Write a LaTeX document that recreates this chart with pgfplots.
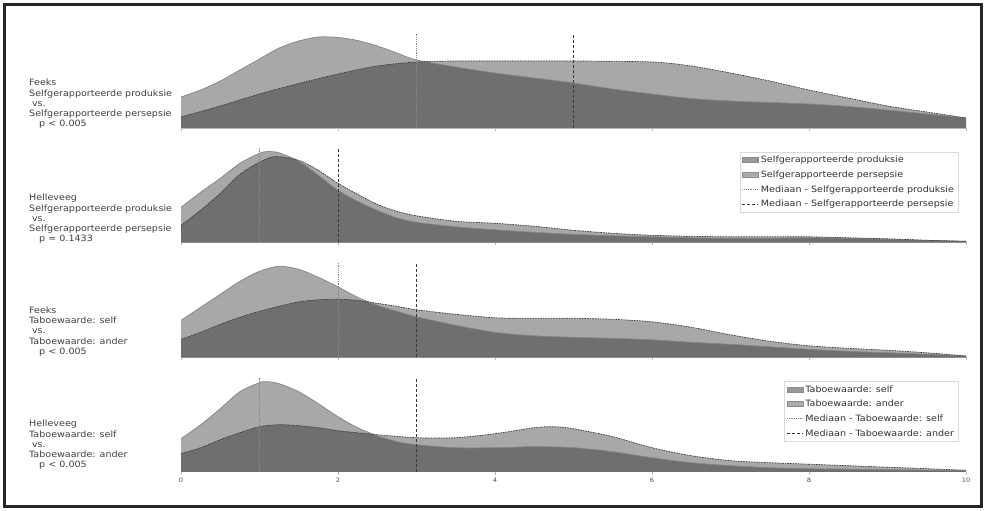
\documentclass[border=0pt]{standalone}
\usepackage{fontspec}
\setmainfont[FakeStretch=1.1]{DejaVu Sans}
\usepackage{pgfplots}
\usepackage{pgfplotstable}
\pgfplotsset{compat=1.18}
\usetikzlibrary{patterns}

\definecolor{edgeA}{gray}{0.52}
\definecolor{edgeB}{gray}{0.22}
\definecolor{axgray}{gray}{0.72}

% Panel 1: Feeks, produksie (A) vs persepsie (B)
\pgfplotstableread{
x y
0 31
0.25 38
0.5 47
0.75 58
1 69
1.25 80
1.5 87
1.75 91
2 90.5
2.25 87.5
2.5 82
2.75 75
3 68
3.5 61
4 55
4.5 50
5 45
5.5 39
6 34
6.5 29.5
7 27
7.5 25.5
8 24
8.5 21.5
9 18
9.5 14
10 10
}\pAa
\pgfplotstableread{
x y
0 11
0.5 22
1 34
1.5 44.5
2 54
2.5 62
3 66
3.5 67
4 67
5 67
6 66
6.5 62
7 55
7.5 47
8 38
8.5 30
9 22
9.5 16
10 10
}\pAb
% Panel 2: Helleveeg, produksie vs persepsie
\pgfplotstableread{
x y
0 35
0.25 50
0.5 64
0.75 79
1 89
1.1 90.7
1.25 89.5
1.5 81
1.75 67
2 52
2.25 41
2.5 32
2.75 24.5
3 20
3.5 15.5
4 12.5
4.5 10
5 8
5.5 6.5
6 5.5
6.5 4.5
7 4
7.5 4
8 4.5
8.5 4
9 3
9.5 2
10 1
}\pBa
\pgfplotstableread{
x y
0 17
0.25 32
0.5 49
0.75 68
1 80
1.2 85.7
1.5 82
1.75 72
2 59
2.25 48
2.5 38
2.75 31
3 26.5
3.5 21
4 19
4.5 16
5 12
5.5 9
6 7
6.5 6
7 5.5
7.5 5.5
8 5.5
8.5 4.5
9 3.5
9.5 2
10 1
}\pBb
% Panel 3: Feeks, Taboewaarde self vs ander
\pgfplotstableread{
x y
0 37
0.25 50
0.5 63
0.75 76
1 86
1.25 91
1.5 88
1.75 80
2 70.5
2.25 60
2.5 52
2.75 46
3 40.5
3.5 32
4 25
4.5 21.5
5 20
5.5 19
6 17.5
6.5 15
7 13
7.5 10.5
8 8
8.5 6
9 4.5
9.5 3
10 1.3
}\pCa
\pgfplotstableread{
x y
0 18
0.25 25
0.5 33
0.75 40
1 46
1.25 51
1.5 55.5
1.75 57.5
2 58
2.25 57
2.5 54
2.75 51
3 47.5
3.5 43
4 39.5
4.5 39
5 39
5.5 38
6 35.5
6.5 30
7 22.5
7.5 16
8 11.5
8.5 9
9 7
9.5 4.5
10 1.3
}\pCb
% Panel 4: Helleveeg, Taboewaarde self vs ander
\pgfplotstableread{
x y
0 33
0.25 47
0.5 63
0.75 80
1 89
1.1 90
1.25 88
1.5 80
1.75 68
2 55
2.25 44
2.5 36
2.75 30
3 27
3.5 24
4 24
4.5 25
5 24
5.5 20
6 14
6.5 9
7 6
7.5 4
8 3
8.5 2.5
9 2
9.5 1.5
10 1
}\pDa
\pgfplotstableread{
x y
0 18
0.25 24
0.5 32
0.75 39
1 45
1.25 47
1.5 46
1.75 44
2 41
2.5 37
3 34
3.5 34
4 38
4.5 44
4.75 45
5 43
5.5 35
6 24
6.5 16
7 11
7.5 9
8 7.5
8.5 6
9 4.5
9.5 3
10 1.5
}\pDb

\pgfplotsset{
  ridge/.style={
    scale only axis, width=785pt, height=100pt,
    anchor=south west,
    xmin=0, xmax=10, ymin=0, ymax=100,
    enlargelimits=false,
    axis x line*=bottom, axis y line=none,
    x axis line style={draw=axgray, line width=0.8pt, -},
    xtick={0,2,4,6,8,10}, ytick=\empty,
    tick align=outside, major tick length=3pt,
    xtick style={draw=axgray, line width=0.6pt},
    xticklabel style={font=\fontsize{6}{7}\selectfont, text=black!70},
    /pgf/number format/assume math mode=true,
  },
  fillA/.style={draw=none, fill=black, fill opacity=0.34, smooth, forget plot},
  lineA/.style={edgeA, line width=0.7pt, smooth, forget plot},
  fillB/.style={draw=none, fill=black, fill opacity=0.34, smooth, forget plot},
  lineB/.style={edgeB, line width=0.7pt, dash pattern=on 1.6pt off 1pt, smooth, forget plot},
  medA/.style={edgeA, line width=0.8pt, densely dotted, forget plot},
  medB/.style={edgeB, line width=0.8pt, dash pattern=on 3pt off 2pt, forget plot},
  myleg/.style={
    legend style={at={(0.99,0.905)}, anchor=north east, draw=black!15,
      fill=white, font=\fontsize{8.7}{10}\selectfont, text=black!80,
      row sep=2.6pt, inner xsep=2pt, inner ysep=2pt,
      cells={anchor=west}},
    legend cell align=left,
  },
}

\newcommand{\lblfont}{\fontsize{8.7}{10.2}\selectfont}

\begin{document}
\begin{tikzpicture}[x=1pt,y=1pt]
\useasboundingbox (0,0) rectangle (986,511);
\draw[line width=3pt, black!85] (4.5,4.5) rectangle (981.5,506.5);

% Panel 1
\begin{axis}[ridge, at={(181pt,383pt)}, xticklabels={}]
\addplot[fillA] table {\pAa} \closedcycle;
\addplot[fillB] table {\pAb} \closedcycle;
\addplot[lineA] table {\pAa};
\addplot[lineB] table {\pAb};
\addplot[medA] coordinates {(3,0) (3,94)};
\addplot[medB] coordinates {(5,0) (5,94)};
\end{axis}

% Panel 2
\begin{axis}[ridge, myleg, at={(181pt,268.7pt)}, xticklabels={}]
\addplot[fillA] table {\pBa} \closedcycle;
\addplot[fillB] table {\pBb} \closedcycle;
\addplot[lineA] table {\pBa};
\addplot[lineB] table {\pBb};
\addplot[medA] coordinates {(1,0) (1,94)};
\addplot[medB] coordinates {(2,0) (2,94)};
\addlegendimage{legend image code/.code={\draw[fill=black!40, draw=black!45] (0pt,-2.5pt) rectangle (16pt,2.5pt);}}
\addlegendentry{Selfgerapporteerde produksie}
\addlegendimage{legend image code/.code={\draw[preaction={fill=black!30}, pattern=dots, pattern color=black!70, draw=black!45] (0pt,-2.5pt) rectangle (16pt,2.5pt);}}
\addlegendentry{Selfgerapporteerde persepsie}
\addlegendimage{legend image code/.code={\draw[edgeA, densely dotted, line width=0.8pt] (0pt,0pt) -- (16pt,0pt);}}
\addlegendentry{Mediaan - Selfgerapporteerde produksie}
\addlegendimage{legend image code/.code={\draw[edgeB, dash pattern=on 3pt off 2pt, line width=0.8pt] (0pt,0pt) -- (16pt,0pt);}}
\addlegendentry{Mediaan - Selfgerapporteerde persepsie}
\end{axis}

% Panel 3
\begin{axis}[ridge, at={(181pt,153.7pt)}, xticklabels={}]
\addplot[fillA] table {\pCa} \closedcycle;
\addplot[fillB] table {\pCb} \closedcycle;
\addplot[lineA] table {\pCa};
\addplot[lineB] table {\pCb};
\addplot[medA] coordinates {(2,0) (2,94)};
\addplot[medB] coordinates {(3,0) (3,94)};
\end{axis}

% Panel 4
\begin{axis}[ridge, myleg, at={(181pt,39.3pt)}]
\addplot[fillA] table {\pDa} \closedcycle;
\addplot[fillB] table {\pDb} \closedcycle;
\addplot[lineA] table {\pDa};
\addplot[lineB] table {\pDb};
\addplot[medA] coordinates {(1,0) (1,94)};
\addplot[medB] coordinates {(3,0) (3,94)};
\addlegendimage{legend image code/.code={\draw[fill=black!40, draw=black!45] (0pt,-2.5pt) rectangle (16pt,2.5pt);}}
\addlegendentry{Taboewaarde: self}
\addlegendimage{legend image code/.code={\draw[preaction={fill=black!30}, pattern=dots, pattern color=black!70, draw=black!45] (0pt,-2.5pt) rectangle (16pt,2.5pt);}}
\addlegendentry{Taboewaarde: ander}
\addlegendimage{legend image code/.code={\draw[edgeA, densely dotted, line width=0.8pt] (0pt,0pt) -- (16pt,0pt);}}
\addlegendentry{Mediaan - Taboewaarde: self}
\addlegendimage{legend image code/.code={\draw[edgeB, dash pattern=on 3pt off 2pt, line width=0.8pt] (0pt,0pt) -- (16pt,0pt);}}
\addlegendentry{Mediaan - Taboewaarde: ander}
\end{axis}

% Row labels
\node[anchor=west, align=left, inner sep=0pt, font=\lblfont, text=black!75] at (29,407)
  {Feeks\\Selfgerapporteerde produksie\\\hspace*{2.8pt}vs.\\Selfgerapporteerde persepsie\\\hspace*{10pt}p < 0.005};
\node[anchor=west, align=left, inner sep=0pt, font=\lblfont, text=black!75] at (29,292)
  {Helleveeg\\Selfgerapporteerde produksie\\\hspace*{2.8pt}vs.\\Selfgerapporteerde persepsie\\\hspace*{10pt}p = 0.1433};
\node[anchor=west, align=left, inner sep=0pt, font=\lblfont, text=black!75] at (29,179.5)
  {Feeks\\Taboewaarde: self\\\hspace*{2.8pt}vs.\\Taboewaarde: ander\\\hspace*{10pt}p < 0.005};
\node[anchor=west, align=left, inner sep=0pt, font=\lblfont, text=black!75] at (29,66)
  {Helleveeg\\Taboewaarde: self\\\hspace*{2.8pt}vs.\\Taboewaarde: ander\\\hspace*{10pt}p < 0.005};
\end{tikzpicture}
\end{document}
